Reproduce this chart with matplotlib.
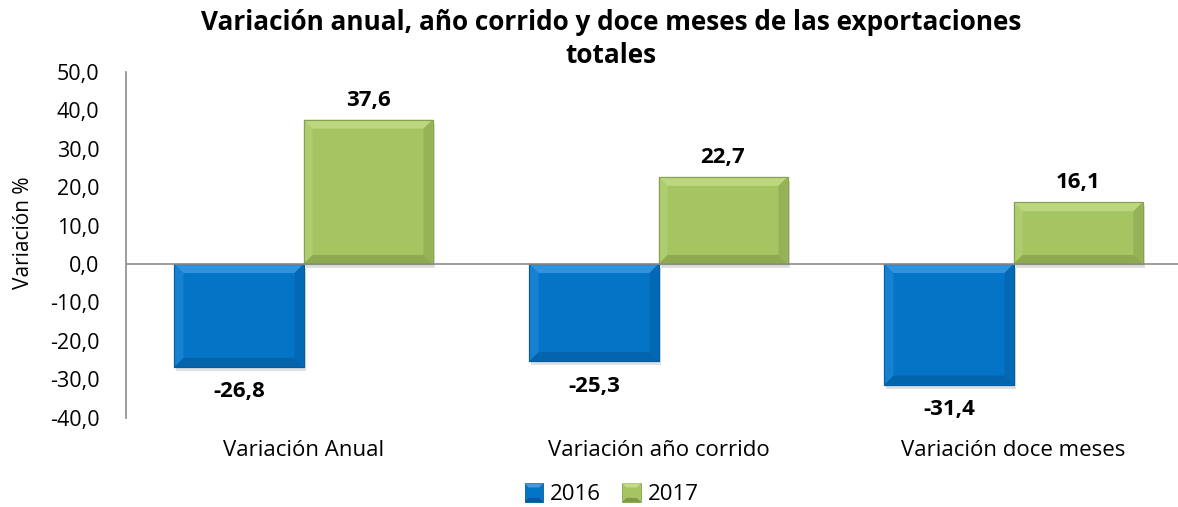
import matplotlib
matplotlib.use("Agg")
import matplotlib.pyplot as plt
from matplotlib.patches import Polygon, Rectangle
from matplotlib.legend_handler import HandlerBase
import numpy as np

categories = ["Variación Anual", "Variación año corrido", "Variación doce meses"]
series_names = ["2016", "2017"]
values_2016 = [-26.8, -25.3, -31.4]
values_2017 = [37.6, 22.7, 16.1]
yticks = [-40, -30, -20, -10, 0, 10, 20, 30, 40, 50]

title = "Variación anual, año corrido y doce meses de las exportaciones\ntotales"
ylabel = "Variación %"

plt.rcParams['font.family'] = ['Open Sans', 'DejaVu Sans']

W, H = 1178, 507
fig = plt.figure(figsize=(W / 100, H / 100), dpi=100)

left_px, right_px = 126, 1191
top_px, bot_px = 72, 417.6
ax = fig.add_axes([left_px / W, 1 - bot_px / H, (right_px - left_px) / W, (bot_px - top_px) / H])

colors = ["#0474C6", "#A5C462"]
light = ["#3C9BE6", "#C3DC88"]
dark = ["#035A9C", "#7F9A45"]
edge = ["#055C9E", "#86A24E"]

x = np.arange(len(categories))
bw = 0.3634

ax.set_xlim(-0.5, len(categories) - 0.5)
ax.set_ylim(-40, 50)

px_x = (right_px - left_px) / len(categories)
px_y = (bot_px - top_px) / 90.0
bev_px = 9
bdx = bev_px / px_x
bdy = bev_px / px_y


def bevel_bar(x0, w, y0, y1, ci, z=3):
    lo, hi = min(y0, y1), max(y0, y1)
    sh = 4 / px_y
    ax.add_patch(Rectangle((x0 + 2 / px_x, lo - sh), w, hi - lo, color="#000000", alpha=0.12, lw=0, zorder=z - 1))
    ax.add_patch(Rectangle((x0, lo), w, hi - lo, facecolor=colors[ci], edgecolor=edge[ci], lw=0.8, zorder=z))
    bx = min(bdx, w / 2)
    by = min(bdy, (hi - lo) / 2)
    xl, xr = x0, x0 + w
    ax.add_patch(Polygon([(xl, hi), (xr, hi), (xr - bx, hi - by), (xl + bx, hi - by)],
                         closed=True, facecolor=light[ci], lw=0, alpha=0.8, zorder=z + 0.1))
    ax.add_patch(Polygon([(xl, lo), (xl, hi), (xl + bx, hi - by), (xl + bx, lo + by)],
                         closed=True, facecolor=light[ci], lw=0, alpha=0.35, zorder=z + 0.1))
    ax.add_patch(Polygon([(xr, lo), (xr, hi), (xr - bx, hi - by), (xr - bx, lo + by)],
                         closed=True, facecolor=dark[ci], lw=0, alpha=0.4, zorder=z + 0.1))
    ax.add_patch(Polygon([(xl, lo), (xr, lo), (xr - bx, lo + by), (xl + bx, lo + by)],
                         closed=True, facecolor=dark[ci], lw=0, alpha=0.6, zorder=z + 0.1))
    ax.add_patch(Rectangle((x0, lo), w, hi - lo, facecolor="none", edgecolor=edge[ci], lw=0.8, zorder=z + 0.2))


bars16 = ax.bar(x - bw / 2, values_2016, width=bw, color=colors[0], zorder=3)
bars17 = ax.bar(x + bw / 2, values_2017, width=bw, color=colors[1], zorder=3)
for ci, bars in enumerate([bars16, bars17]):
    for b in bars:
        bevel_bar(b.get_x(), b.get_width(), 0, b.get_height(), ci, z=4)

for xi, v in zip(x, values_2016):
    ax.text(xi - bw / 2, v - 6.5, f"{v:.1f}".replace(".", ","), ha="center", va="center",
            fontsize=16, fontweight="bold", zorder=6)
for xi, v in zip(x, values_2017):
    ax.text(xi + bw / 2, v + 5.0, f"{v:.1f}".replace(".", ","), ha="center", va="center",
            fontsize=16, fontweight="bold", zorder=6)

ax.axhline(0, color="#8C8C8C", lw=1.2, zorder=5)

ax.set_yticks(yticks)
ax.set_yticklabels([f"{t:.1f}".replace(".", ",") for t in yticks])
ax.set_xticks(x)
ax.set_xticklabels(categories)
ax.tick_params(axis="y", length=0, pad=19, labelsize=15.5)
ax.tick_params(axis="x", length=0, pad=16, labelsize=16)

for s in ["top", "right", "bottom"]:
    ax.spines[s].set_visible(False)
ax.spines["left"].set_color("#8C8C8C")
ax.spines["left"].set_linewidth(1.2)

fig.text(24 / W, 1 - 233 / H, ylabel, rotation=90, ha="center", va="center", fontsize=15)
fig.text(611 / W, 1 - 39 / H, title, ha="center", va="center", fontsize=18.8,
         fontweight="bold", linespacing=1.3)


class BevelHandler(HandlerBase):
    def __init__(self, ci):
        super().__init__()
        self.ci = ci

    def create_artists(self, legend, orig_handle, xdescent, ydescent, width, height, fontsize, trans):
        s = 13.5
        x0 = width - s
        y0 = (height - s) / 2
        arts = []
        arts.append(Rectangle((x0, y0), s, s, facecolor=colors[self.ci], edgecolor=edge[self.ci], lw=0.6, transform=trans))
        b = 3
        arts.append(Polygon([(x0, y0 + s), (x0 + s, y0 + s), (x0 + s - b, y0 + s - b), (x0 + b, y0 + s - b)],
                            facecolor=light[self.ci], lw=0, transform=trans))
        arts.append(Polygon([(x0, y0), (x0 + s, y0), (x0 + s - b, y0 + b), (x0 + b, y0 + b)],
                            facecolor=dark[self.ci], lw=0, transform=trans))
        return arts


h1 = Rectangle((0, 0), 1, 1)
h2 = Rectangle((0, 0), 1, 1)
fig.legend([h1, h2], series_names, loc="center", bbox_to_anchor=(611 / W, 1 - 495 / H),
           ncol=2, frameon=False, fontsize=16, handlelength=0.9, handletextpad=0.3,
           columnspacing=0.9, borderpad=0.1, handler_map={h1: BevelHandler(0), h2: BevelHandler(1)})

fig.savefig("out.png", dpi=100)
